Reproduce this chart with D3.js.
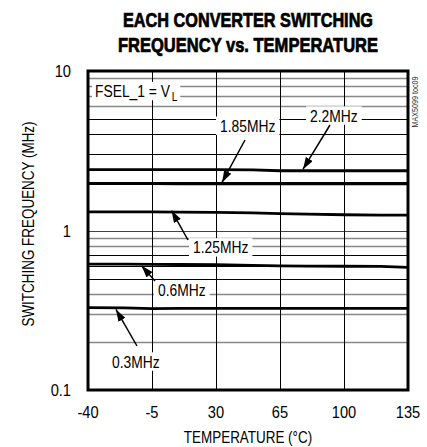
<!DOCTYPE html>
<html><head><meta charset="utf-8">
<script src="https://cdn.jsdelivr.net/npm/d3@7/dist/d3.min.js"></script>
<style>
html,body{margin:0;padding:0;background:#fff;}
svg{display:block;}
text{font-family:"Liberation Sans Narrow","Liberation Sans",Arial,sans-serif;fill:#000;}
</style>
</head><body>
<svg id="chart" width="427" height="447"></svg>
<script>
// ---- data ----
const temps = [-40, -20, -5, 10, 30, 50, 65, 80, 100, 120, 135];
const f2200 = [2.41, 2.41, 2.41, 2.41, 2.41, 2.40, 2.37, 2.37, 2.37, 2.37, 2.37];
const f1850 = [1.97, 1.97, 1.965, 1.96, 1.96, 1.96, 1.96, 1.96, 1.96, 1.96, 1.96];
const f1250 = [1.31, 1.31, 1.31, 1.305, 1.30, 1.29, 1.275, 1.265, 1.255, 1.25, 1.25];
const f600  = [0.615, 0.615, 0.614, 0.612, 0.61, 0.605, 0.60, 0.598, 0.597, 0.595, 0.588];
const f300  = [0.328, 0.327, 0.324, 0.325, 0.325, 0.325, 0.325, 0.325, 0.325, 0.325, 0.325];
const seriesNames = ["2.2MHz", "1.85MHz", "1.25MHz", "0.6MHz", "0.3MHz"];
const xTicks = [-40, -5, 30, 65, 100, 135];
const yTickLabels = [0.1, 1, 10];
const yGrid = [0.2,0.3,0.4,0.5,0.6,0.7,0.8,0.9,1,2,3,4,5,6,7,8,9];
const titleLines = ["EACH CONVERTER SWITCHING", "FREQUENCY vs. TEMPERATURE"];
const xTitle = "TEMPERATURE (°C)";
const yTitle = "SWITCHING FREQUENCY (MHz)";
const condition = "FSEL_1 = V";
const conditionSub = "L";
const arrowTipTemps = [77.6, 33.3, 5.7, -10.7, -24.7];

// ---- layout ----
const L = 88, R = 408, T = 71, B = 390;
const NARROW = 0.84;
const svg = d3.select("#chart");
const x = d3.scaleLinear().domain([-40, 135]).range([L, R]);
const y = d3.scaleLog().domain([0.1, 10]).range([B, T]);

function narrow(sel, f) {
  sel.each(function () {
    const w = this.getComputedTextLength();
    d3.select(this).attr("textLength", w * (f || NARROW)).attr("lengthAdjust", "spacingAndGlyphs");
  });
  return sel;
}

const grayLines = new Set([0.2,0.3,0.4,0.8,0.9,6,7,8,9]);

// grid
const g = svg.append("g");
g.selectAll("line.h").data(yGrid).join("line")
  .attr("x1", L).attr("x2", R)
  .attr("y1", d => Math.round(y(d)) + 0.5).attr("y2", d => Math.round(y(d)) + 0.5)
  .attr("stroke", d => d === 1 ? "#444" : (grayLines.has(d) ? "#888" : "#000"))
  .attr("stroke-width", d => grayLines.has(d) ? 1.3 : 1);
g.selectAll("line.v").data(xTicks.slice(1, -1)).join("line")
  .attr("y1", T).attr("y2", B)
  .attr("x1", d => Math.round(x(d)) + 0.5).attr("x2", d => Math.round(x(d)) + 0.5)
  .attr("stroke", "#000").attr("stroke-width", 1);

// curves
const allSeries = [f2200, f1850, f1250, f600, f300];
const line = d3.line().x((d, i) => x(temps[i])).y(d => y(d)).curve(d3.curveLinear);
svg.append("g").selectAll("path").data(allSeries).join("path")
  .attr("d", d => line(d)).attr("fill", "none")
  .attr("stroke", "#000").attr("stroke-width", 2.8);

// border
svg.append("rect").attr("x", L).attr("y", T).attr("width", R - L).attr("height", B - T)
  .attr("fill", "none").attr("stroke", "#000").attr("stroke-width", 3);

// labels with white boxes (horizontally condensed via group transform)
const ann = svg.append("g");
function boxedLabel(txt, tx, ty, padX, sub) {
  const grp = ann.append("g").attr("transform", `translate(${tx},${ty}) scale(${NARROW},1)`);
  const rect = grp.append("rect").attr("fill", "#fff");
  const t = grp.append("text").attr("x", 0).attr("y", 0)
    .attr("font-size", 16.5).text(txt);
  const bb = t.node().getBBox();
  let x0 = bb.x, x1 = bb.x + bb.width, y0 = bb.y, y1 = bb.y + bb.height;
  if (sub) {
    const s = grp.append("text").attr("x", x1 + 1).attr("y", 3.5)
      .attr("font-size", 12).text(sub);
    const sb = s.node().getBBox();
    x1 = sb.x + sb.width;
  }
  const p = padX / NARROW;
  rect.attr("x", x0 - p).attr("y", y0)
    .attr("width", x1 - x0 + 2 * p).attr("height", y1 - y0);
}
boxedLabel(condition, 95, 97, 3, conditionSub);
const labelPos = [[310, 121.5], [220, 131.7], [193, 253.3], [158, 295.5], [112, 367.5]];
seriesNames.forEach((n, i) => boxedLabel(n, labelPos[i][0], labelPos[i][1], 4));

// arrows
svg.append("defs").append("marker").attr("id", "ah")
  .attr("viewBox", "0 0 12 8").attr("refX", 12).attr("refY", 4)
  .attr("markerWidth", 12).attr("markerHeight", 8).attr("markerUnits", "userSpaceOnUse")
  .attr("orient", "auto")
  .append("path").attr("d", "M0,0 L12,4 L0,8 Z").attr("fill", "#000");
const tails = [[330, 125], [245, 140], [188, 240], [155, 281], [137, 346]];
svg.append("g").selectAll("line").data(arrowTipTemps).join("line")
  .attr("x1", (d, i) => tails[i][0]).attr("y1", (d, i) => tails[i][1])
  .attr("x2", d => x(d))
  .attr("y2", (d, i) => {
    const s = allSeries[i];
    const v = s[d3.bisectLeft(temps, d)];
    return i < 3 ? y(v) - 1.5 : y(v) + 1.5;
  })
  .attr("stroke", "#000").attr("stroke-width", 1.5).attr("marker-end", "url(#ah)");

// axis tick labels
narrow(svg.append("g").selectAll("text").data(yTickLabels).join("text")
  .attr("x", 71).attr("y", d => y(d) + 6).attr("text-anchor", "end")
  .attr("font-size", 17).text(d => d3.format("")(d)), 0.86);
narrow(svg.append("g").selectAll("text").data(xTicks).join("text")
  .attr("x", d => x(d)).attr("y", 418).attr("text-anchor", "middle")
  .attr("font-size", 17).text(d => d), 0.86);

// axis titles
narrow(svg.append("text").attr("x", 248).attr("y", 442.5).attr("text-anchor", "middle")
  .attr("font-size", 16).text(xTitle));
narrow(svg.append("text").attr("transform", "translate(33.5,224) rotate(-90)")
  .attr("text-anchor", "middle").attr("font-size", 16).text(yTitle));

// title
titleLines.forEach((s, i) => {
  svg.append("text").attr("x", 248).attr("y", i === 0 ? 27 : 51.5)
    .attr("text-anchor", "middle").attr("font-size", 19.5).attr("font-weight", "bold")
    .attr("stroke", "#000").attr("stroke-width", 0.7)
    .attr("textLength", i === 0 ? 250 : 260).attr("lengthAdjust", "spacingAndGlyphs")
    .text(s);
});

// watermark
narrow(svg.append("text").attr("transform", "translate(418,102) rotate(-90)")
  .attr("text-anchor", "middle").attr("font-size", 8.5)
  .style("fill", "#333").text("MAX5099 toc09"));
</script>
</body></html>
